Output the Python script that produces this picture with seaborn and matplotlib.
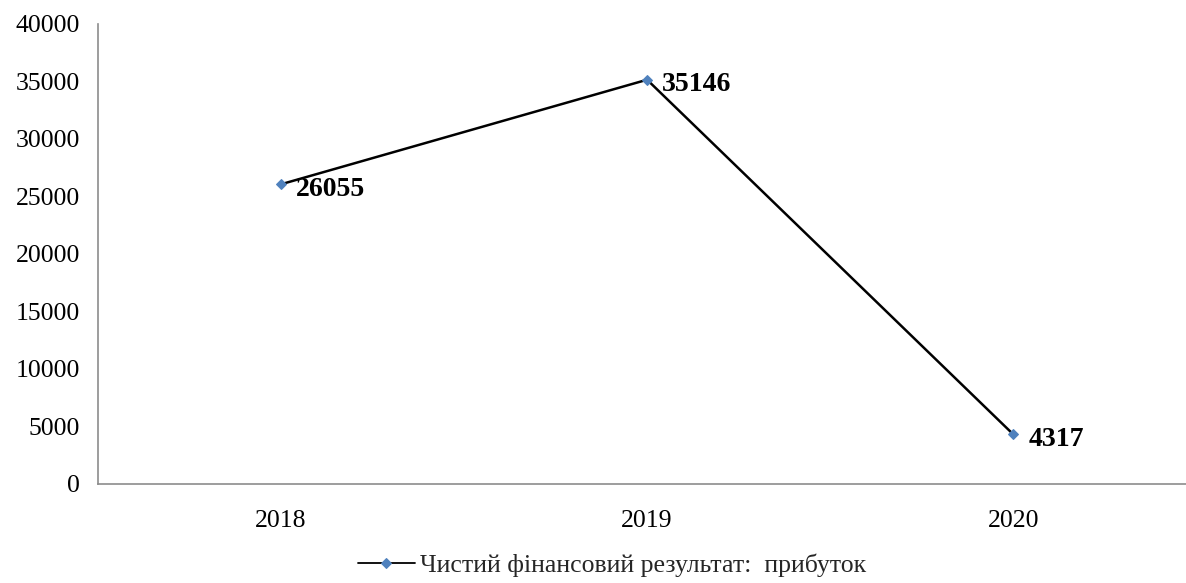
import matplotlib
matplotlib.use("Agg")
import matplotlib.pyplot as plt
import seaborn as sns
import pandas as pd

years = ["2018", "2019", "2020"]
profit = [26055, 35146, 4317]
series_name = "Чистий фінансовий результат:  прибуток"
y_ticks = [0, 5000, 10000, 15000, 20000, 25000, 30000, 35000, 40000]

sns.set_theme(style="white")
plt.rcParams["font.family"] = ["Liberation Serif", "DejaVu Serif"]

df = pd.DataFrame({"year": years, "value": profit})

fig = plt.figure(figsize=(11.86, 5.83), dpi=100)
ax = fig.add_axes([0.0826, 0.170, 0.926, 0.789])

sns.lineplot(data=df, x="year", y="value", ax=ax, color="black", linewidth=1.8,
             marker="D", markersize=5.5, markerfacecolor="#4F81BD",
             markeredgecolor="#4F81BD", label=series_name, sort=False)

for i, v in enumerate(profit):
    ax.annotate(f"{v}", (i, v), xytext=(11, -3.5), textcoords="offset points",
                ha="left", va="center", fontsize=20, fontweight="bold", color="black")

ax.set_xlim(-0.5, 2.5)
ax.set_ylim(0, 40000)
ax.set_yticks(y_ticks)
ax.set_xlabel("")
ax.set_ylabel("")
ax.tick_params(axis="both", length=0, labelsize=18.5, colors="black")
ax.tick_params(axis="x", pad=19)
ax.tick_params(axis="y", pad=13)
for s in ["top", "right"]:
    ax.spines[s].set_visible(False)
for s in ["left", "bottom"]:
    ax.spines[s].set_color("#8c8c8c")
    ax.spines[s].set_linewidth(1.2)

leg = ax.legend(loc="center", bbox_to_anchor=(0.468, -0.176), frameon=False,
                fontsize=18.5, handlelength=2.2, handletextpad=0.2,
                borderpad=0.0)
for h in leg.legend_handles:
    h.set_linewidth(1.3)

fig.savefig("out.png", dpi=100)
